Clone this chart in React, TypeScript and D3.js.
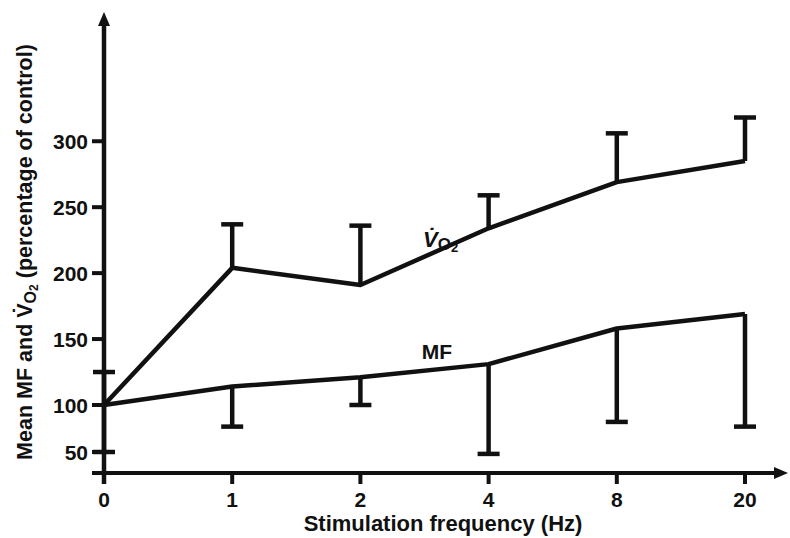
import { useEffect, useRef } from 'react';
import * as d3 from 'd3';

// stimulation frequencies (Hz), evenly spaced on the axis
const frequencies = ['0', '1', '2', '4', '8', '20'];

// VO2 mean and SE (percentage of control), error bars drawn upward
const vo2Mean = [100, 204, 191, 234, 269, 285];
const vo2Se = [25, 33, 45, 25, 37, 33];

// mean MF and SE (percentage of control), error bars drawn downward
const mfMean = [100, 114, 121, 131, 158, 169];
const mfSe = [50, 37, 21, 83, 76, 92];

const yTicks = [50, 100, 150, 200, 250, 300];

const FONT = '"Liberation Sans", Arial, Helvetica, sans-serif';
const INK = '#111';

const App = () => {
  const chartRef = useRef<SVGSVGElement>(null);

  useEffect(() => {
    document.body.style.margin = '0';
    if (!chartRef.current) return;

    d3.select(chartRef.current).selectAll('*').remove();

    const width = 790;
    const height = 538;
    const axisX = 104;
    const axisY = 473;
    const top = 12;

    const svg = d3.select(chartRef.current)
      .attr('width', width)
      .attr('height', height);

    const x = d3.scalePoint<string>()
      .domain(frequencies)
      .range([axisX, 745]);

    // the original axis is compressed below 100 %
    const y = d3.scaleLinear()
      .domain([28, 50, 100, 398])
      .range([axisY, 452, 405, top]);

    // axes
    svg.append('line')
      .attr('x1', axisX).attr('x2', axisX)
      .attr('y1', axisY + 11).attr('y2', top + 10)
      .attr('stroke', INK).attr('stroke-width', 4.5);

    svg.append('path')
      .attr('d', `M${axisX - 6},${top + 14}L${axisX},${top}L${axisX + 6},${top + 14}Z`)
      .attr('fill', INK);

    svg.append('line')
      .attr('x1', 92).attr('x2', 778)
      .attr('y1', axisY).attr('y2', axisY)
      .attr('stroke', INK).attr('stroke-width', 4);

    svg.append('path')
      .attr('d', `M774,${axisY - 6}L788,${axisY}L774,${axisY + 6}Z`)
      .attr('fill', INK);

    // y ticks
    const yt = svg.selectAll('.ytick')
      .data(yTicks)
      .enter()
      .append('g')
      .attr('class', 'ytick');

    yt.append('line')
      .attr('x1', axisX - 12).attr('x2', axisX)
      .attr('y1', d => y(d)).attr('y2', d => y(d))
      .attr('stroke', INK).attr('stroke-width', 4);

    yt.append('text')
      .attr('x', 88)
      .attr('y', d => y(d))
      .attr('dy', '0.36em')
      .attr('text-anchor', 'end')
      .style('font-family', FONT)
      .style('font-weight', 'bold')
      .style('font-size', '21px')
      .attr('fill', INK)
      .text(d => d);

    // x ticks
    const xt = svg.selectAll('.xtick')
      .data(frequencies)
      .enter()
      .append('g')
      .attr('class', 'xtick');

    xt.append('line')
      .attr('x1', d => x(d) || 0).attr('x2', d => x(d) || 0)
      .attr('y1', axisY).attr('y2', axisY + 11)
      .attr('stroke', INK).attr('stroke-width', 4);

    xt.append('text')
      .attr('x', d => x(d) || 0)
      .attr('y', 507)
      .attr('text-anchor', 'middle')
      .style('font-family', FONT)
      .style('font-weight', 'bold')
      .style('font-size', '21px')
      .attr('fill', INK)
      .text(d => d);

    // series
    const series = [
      { mean: vo2Mean, se: vo2Se, dir: 1 },
      { mean: mfMean, se: mfSe, dir: -1 },
    ];

    const line = d3.line<number>()
      .x((_, i) => x(frequencies[i]) || 0)
      .y(d => y(d));

    series.forEach(s => {
      svg.append('path')
        .datum(s.mean)
        .attr('fill', 'none')
        .attr('stroke', INK)
        .attr('stroke-width', 4.5)
        .attr('stroke-linejoin', 'round')
        .attr('d', line);

      const bars = svg.append('g')
        .selectAll('g')
        .data(s.mean.map((m, i) => ({ f: frequencies[i], m, end: m + s.dir * s.se[i] })))
        .enter()
        .append('g');

      bars.append('line')
        .attr('x1', d => x(d.f) || 0).attr('x2', d => x(d.f) || 0)
        .attr('y1', d => y(d.m)).attr('y2', d => y(d.end))
        .attr('stroke', INK).attr('stroke-width', 4.5);

      bars.append('line')
        .attr('x1', d => (x(d.f) || 0) - 11).attr('x2', d => (x(d.f) || 0) + 11)
        .attr('y1', d => y(d.end)).attr('y2', d => y(d.end))
        .attr('stroke', INK).attr('stroke-width', 4.5);
    });

    // series labels
    const vo2Label = svg.append('text')
      .attr('x', 423)
      .attr('y', 247)
      .style('font-family', FONT)
      .style('font-weight', 'bold')
      .style('font-size', '22px')
      .attr('fill', INK);
    vo2Label.append('tspan').style('font-style', 'italic').text('V\u0307');
    vo2Label.append('tspan').attr('dy', 3).style('font-size', '17px').text('O');
    vo2Label.append('tspan').attr('dy', 2).style('font-size', '13px').text('2');

    svg.append('text')
      .attr('x', 437)
      .attr('y', 359)
      .attr('text-anchor', 'middle')
      .style('font-family', FONT)
      .style('font-weight', 'bold')
      .style('font-size', '21px')
      .attr('fill', INK)
      .text('MF');

    // axis titles
    svg.append('text')
      .attr('x', 443)
      .attr('y', 531)
      .attr('text-anchor', 'middle')
      .style('font-family', FONT)
      .style('font-weight', 'bold')
      .style('font-size', '22px')
      .attr('fill', INK)
      .text('Stimulation frequency (Hz)');

    const yTitle = svg.append('text')
      .attr('transform', 'translate(32, 252) rotate(-90)')
      .attr('text-anchor', 'middle')
      .style('font-family', FONT)
      .style('font-weight', 'bold')
      .style('font-size', '21.5px')
      .attr('fill', INK);
    yTitle.append('tspan').text('Mean MF and ');
    yTitle.append('tspan').text('V\u0307');
    yTitle.append('tspan').attr('dy', 4).style('font-size', '16px').text('O');
    yTitle.append('tspan').attr('dy', 2).style('font-size', '12px').text('2');
    yTitle.append('tspan').attr('dy', -6).text(' (percentage of control)');
  }, []);

  return (
    <div style={{ width: 790, height: 538 }}>
      <svg ref={chartRef} style={{ display: 'block', background: '#fff' }} />
    </div>
  );
};

export default App;
